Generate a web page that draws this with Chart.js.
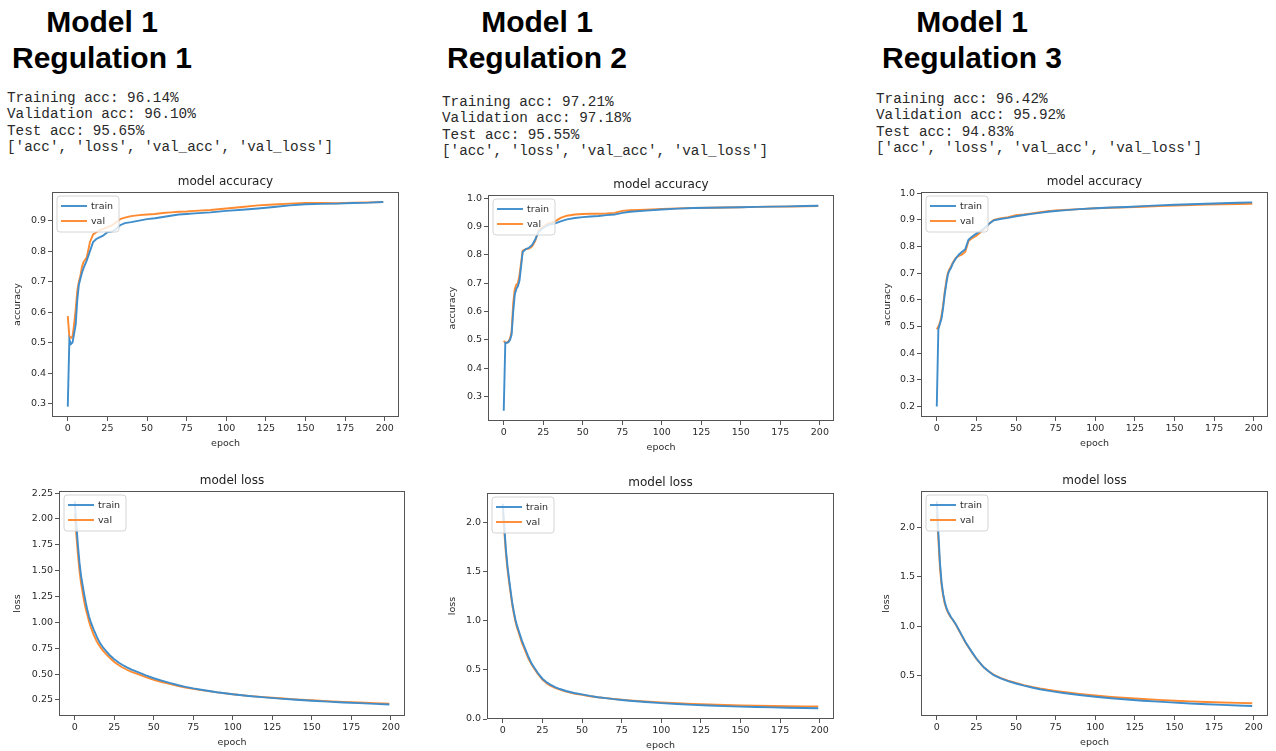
<!DOCTYPE html>
<html>
<head>
<meta charset="utf-8">
<title>Model 1 - regulation comparison</title>
<script src="https://cdn.jsdelivr.net/npm/chart.js@4.4.0/dist/chart.umd.min.js"></script>
<style>
  html, body { margin: 0; padding: 0; background: #fff; width: 1276px; height: 751px; overflow: hidden; }
  body { position: relative; }
  .head { position: absolute; width: 260px; text-align: center; font-family: 'Liberation Sans', Arial, sans-serif;
          font-weight: bold; font-size: 30px; line-height: 36px; color: #000; }
  .stats { position: absolute; margin: 0; font-family: 'Liberation Mono', monospace; font-size: 14.3px;
           line-height: 16.4px; color: #2a2a2a; white-space: pre; }
  canvas { position: absolute; }
</style>
</head>
<body>
<div class="head" style="left:-28px;top:4px">Model 1<br>Regulation 1</div>
<div class="head" style="left:407px;top:4px">Model 1<br>Regulation 2</div>
<div class="head" style="left:842px;top:4px">Model 1<br>Regulation 3</div>
<pre class="stats" id="stats1" style="left:7px;top:90px"></pre>
<pre class="stats" id="stats2" style="left:442px;top:94px"></pre>
<pre class="stats" id="stats3" style="left:876px;top:91px"></pre>

<script>
// summary numbers printed above each pair of plots
var trainAcc = [96.14, 97.21, 96.42];
var valAcc = [96.10, 97.18, 95.92];
var testAcc = [95.65, 95.55, 94.83];
var historyKeys = ['acc', 'loss', 'val_acc', 'val_loss'];

var epochs = [0, 1, 2, 3, 4, 5, 6, 7, 8, 9, 10, 12, 14, 16, 18, 20, 22, 25, 28, 30, 33, 36,
              40, 45, 50, 55, 60, 65, 70, 75, 80, 90, 100, 110, 120, 130, 140, 150, 160, 170, 180, 190, 199];

// regulation 1
var acc1Train = [0.29, 0.51, 0.495, 0.50, 0.53, 0.56, 0.64, 0.69, 0.71, 0.73, 0.745,
                 0.77, 0.80, 0.83, 0.84, 0.845, 0.85, 0.862, 0.865, 0.87, 0.885, 0.892,
                 0.895, 0.90, 0.905, 0.908, 0.912, 0.916, 0.92, 0.922, 0.924,
                 0.927, 0.932, 0.936, 0.94, 0.945, 0.95, 0.954, 0.955, 0.956, 0.958, 0.959, 0.961];
var acc1Val = [0.587, 0.52, 0.515, 0.52, 0.56, 0.61, 0.67, 0.70, 0.72, 0.75, 0.765,
               0.78, 0.83, 0.855, 0.862, 0.868, 0.872, 0.878, 0.885, 0.893, 0.905, 0.91,
               0.915, 0.918, 0.92, 0.922, 0.925, 0.927, 0.929, 0.93, 0.932,
               0.935, 0.94, 0.945, 0.95, 0.953, 0.956, 0.958, 0.958, 0.957, 0.959, 0.96, 0.961];
var loss1Train = [2.17, 1.95, 1.75, 1.58, 1.45, 1.36, 1.27, 1.19, 1.12, 1.06, 1.01,
                  0.93, 0.86, 0.80, 0.755, 0.72, 0.685, 0.643, 0.61, 0.59, 0.565, 0.543,
                  0.518, 0.488, 0.46, 0.437, 0.415, 0.395, 0.377, 0.362, 0.349,
                  0.325, 0.305, 0.289, 0.275, 0.263, 0.252, 0.243, 0.234, 0.226, 0.219, 0.212, 0.206];
var loss1Val = [2.05, 1.85, 1.66, 1.50, 1.38, 1.29, 1.20, 1.13, 1.07, 1.01, 0.96,
                0.88, 0.815, 0.765, 0.725, 0.69, 0.66, 0.617, 0.585, 0.566, 0.542, 0.522,
                0.50, 0.47, 0.445, 0.424, 0.405, 0.387, 0.371, 0.357, 0.345,
                0.323, 0.305, 0.29, 0.277, 0.266, 0.256, 0.247, 0.239, 0.232, 0.225, 0.219, 0.214];

// regulation 2
var acc2Train = [0.25, 0.49, 0.49, 0.492, 0.50, 0.52, 0.60, 0.66, 0.68, 0.69, 0.71,
                 0.81, 0.82, 0.825, 0.835, 0.855, 0.88, 0.895, 0.905, 0.908, 0.912, 0.918,
                 0.925, 0.93, 0.933, 0.935, 0.937, 0.94, 0.942, 0.948, 0.952,
                 0.956, 0.96, 0.963, 0.965, 0.966, 0.967, 0.968, 0.969, 0.97, 0.971, 0.972, 0.973];
var acc2Val = [0.497, 0.49, 0.49, 0.495, 0.505, 0.53, 0.63, 0.68, 0.695, 0.70, 0.73,
               0.815, 0.82, 0.822, 0.83, 0.85, 0.885, 0.90, 0.91, 0.913, 0.92, 0.93,
               0.938, 0.942, 0.944, 0.945, 0.945, 0.946, 0.948, 0.955, 0.957,
               0.959, 0.962, 0.964, 0.965, 0.966, 0.967, 0.968, 0.969, 0.97, 0.97, 0.971, 0.972];
var loss2Train = [2.19, 1.95, 1.72, 1.55, 1.42, 1.30, 1.18, 1.09, 1.01, 0.95, 0.90,
                  0.80, 0.72, 0.64, 0.57, 0.52, 0.47, 0.41, 0.37, 0.35, 0.325, 0.305,
                  0.285, 0.265, 0.25, 0.235, 0.222, 0.212, 0.202, 0.194, 0.186,
                  0.173, 0.162, 0.152, 0.144, 0.137, 0.131, 0.126, 0.122, 0.118, 0.115, 0.112, 0.11];
var loss2Val = [2.10, 1.90, 1.68, 1.52, 1.39, 1.27, 1.16, 1.07, 0.99, 0.93, 0.88,
                0.78, 0.70, 0.62, 0.56, 0.51, 0.46, 0.40, 0.36, 0.34, 0.317, 0.298,
                0.278, 0.26, 0.245, 0.232, 0.221, 0.212, 0.204, 0.197, 0.19,
                0.179, 0.169, 0.16, 0.153, 0.147, 0.142, 0.138, 0.135, 0.132, 0.13, 0.128, 0.127];

// regulation 3
var acc3Train = [0.20, 0.49, 0.51, 0.53, 0.57, 0.62, 0.66, 0.695, 0.71, 0.72, 0.735,
                 0.755, 0.77, 0.78, 0.79, 0.825, 0.835, 0.848, 0.86, 0.868, 0.885, 0.898,
                 0.903, 0.907, 0.913, 0.918, 0.922, 0.926, 0.93, 0.933, 0.935,
                 0.94, 0.943, 0.946, 0.948, 0.951, 0.954, 0.956, 0.958, 0.96, 0.962, 0.964, 0.965];
var acc3Val = [0.49, 0.50, 0.515, 0.54, 0.58, 0.63, 0.67, 0.70, 0.715, 0.725, 0.738,
               0.757, 0.765, 0.77, 0.78, 0.82, 0.83, 0.84, 0.855, 0.865, 0.885, 0.90,
               0.905, 0.91, 0.917, 0.92, 0.924, 0.928, 0.932, 0.935, 0.937,
               0.94, 0.943, 0.945, 0.947, 0.949, 0.951, 0.953, 0.955, 0.957, 0.958, 0.959, 0.96];
var loss3Train = [2.27, 1.95, 1.65, 1.45, 1.33, 1.25, 1.19, 1.15, 1.12, 1.09, 1.07,
                  1.02, 0.96, 0.90, 0.84, 0.79, 0.74, 0.67, 0.61, 0.575, 0.535, 0.50,
                  0.47, 0.44, 0.415, 0.393, 0.374, 0.357, 0.342, 0.33, 0.318,
                  0.298, 0.28, 0.265, 0.252, 0.24, 0.23, 0.22, 0.212, 0.204, 0.197, 0.191, 0.186];
var loss3Val = [2.15, 1.88, 1.60, 1.42, 1.31, 1.23, 1.18, 1.14, 1.11, 1.085, 1.065,
                1.015, 0.955, 0.895, 0.835, 0.785, 0.735, 0.665, 0.61, 0.575, 0.537, 0.503,
                0.472, 0.443, 0.42, 0.399, 0.381, 0.365, 0.351, 0.339, 0.328,
                0.309, 0.293, 0.279, 0.267, 0.257, 0.248, 0.24, 0.233, 0.227, 0.222, 0.218, 0.214];

// tick values
var xTicks = [0, 25, 50, 75, 100, 125, 150, 175, 200];
var accTicks1 = [0.3, 0.4, 0.5, 0.6, 0.7, 0.8, 0.9];
var lossTicks1 = [0.25, 0.5, 0.75, 1, 1.25, 1.5, 1.75, 2, 2.25];
var accTicks2 = [0.3, 0.4, 0.5, 0.6, 0.7, 0.8, 0.9, 1.0];
var lossTicks2 = [0, 0.5, 1, 1.5, 2];
var accTicks3 = [0.2, 0.3, 0.4, 0.5, 0.6, 0.7, 0.8, 0.9, 1.0];
var lossTicks3 = [0.5, 1, 1.5, 2];

var BLUE = '#3f8dcb';
var ORANGE = '#ff8a30';
var TEXT = '#2b2b2b';
var FONT = "'DejaVu Sans', sans-serif";
var AXIS_W = 50;   // room left of the plot for tick labels + y title
var TITLE_H = 19;  // room above the plot for the title
var XAXIS_H = 34;  // room below the plot for tick labels + x title
var RIGHT_PAD = 8;

// fill the printed summaries
for (var i = 0; i < 3; i++) {
    document.getElementById('stats' + (i + 1)).textContent =
        'Training acc: ' + trainAcc[i].toFixed(2) + '%\n' +
        'Validation acc: ' + valAcc[i].toFixed(2) + '%\n' +
        'Test acc: ' + testAcc[i].toFixed(2) + '%\n' +
        '[' + historyKeys.map(function (k) { return "'" + k + "'"; }).join(', ') + ']';
}

function toPoints(values) {
    return epochs.map(function (e, i) { return { x: e, y: values[i] }; });
}

// matplotlib style frame + legend box in the upper left corner
var frameAndLegend = {
    id: 'frameAndLegend',
    afterDatasetsDraw: function (chart) {
        var ctx = chart.ctx;
        var a = chart.chartArea;
        ctx.save();

        var bx = a.left + 5, by = a.top + 4, bw = 62, bh = 36, r = 3;
        ctx.beginPath();
        ctx.moveTo(bx + r, by);
        ctx.arcTo(bx + bw, by, bx + bw, by + bh, r);
        ctx.arcTo(bx + bw, by + bh, bx, by + bh, r);
        ctx.arcTo(bx, by + bh, bx, by, r);
        ctx.arcTo(bx, by, bx + bw, by, r);
        ctx.closePath();
        ctx.fillStyle = 'rgba(255,255,255,0.8)';
        ctx.fill();
        ctx.strokeStyle = '#d4d4d4';
        ctx.lineWidth = 1;
        ctx.stroke();

        ctx.font = '9.5px ' + FONT;
        ctx.textBaseline = 'middle';
        chart.data.datasets.forEach(function (ds, k) {
            var y = a.top + 14 + k * 15;
            ctx.strokeStyle = ds.borderColor;
            ctx.lineWidth = 1.9;
            ctx.beginPath();
            ctx.moveTo(a.left + 9, y);
            ctx.lineTo(a.left + 35, y);
            ctx.stroke();
            ctx.fillStyle = TEXT;
            ctx.fillText(ds.label, a.left + 39, y + 0.5);
        });

        ctx.strokeStyle = '#555';
        ctx.lineWidth = 1;
        ctx.strokeRect(a.left + 0.5, a.top + 0.5, a.right - a.left - 1, a.bottom - a.top - 1);
        ctx.restore();
    }
};

function makeChart(box, spec) {
    var canvas = document.createElement('canvas');
    var w = box.R - box.L + AXIS_W + RIGHT_PAD;
    var h = box.B - box.T + TITLE_H + XAXIS_H;
    canvas.width = w;
    canvas.height = h;
    canvas.style.width = w + 'px';
    canvas.style.height = h + 'px';
    canvas.style.left = (box.L - AXIS_W) + 'px';
    canvas.style.top = (box.T - TITLE_H) + 'px';
    document.body.appendChild(canvas);

    var tickFont = { family: FONT, size: 9.5 };
    return new Chart(canvas, {
        type: 'line',
        data: {
            datasets: [
                { label: 'train', data: toPoints(spec.train), borderColor: BLUE },
                { label: 'val', data: toPoints(spec.val), borderColor: ORANGE }
            ]
        },
        options: {
            responsive: false,
            animation: false,
            devicePixelRatio: 1,
            layout: { padding: { left: 0, top: 0, right: RIGHT_PAD, bottom: 0 } },
            elements: { point: { radius: 0 }, line: { borderWidth: 1.9, tension: 0, fill: false } },
            plugins: {
                legend: { display: false },
                tooltip: { enabled: false },
                title: {
                    display: true, text: spec.title, fullSize: false, color: '#222',
                    font: { family: FONT, size: 12, weight: 'normal', lineHeight: '14px' },
                    padding: { top: 2, bottom: 3 }
                }
            },
            scales: {
                x: {
                    type: 'linear', min: -9.95, max: 208.95,
                    afterFit: function (s) { s.height = XAXIS_H; },
                    afterBuildTicks: function (s) { s.ticks = xTicks.map(function (v) { return { value: v }; }); },
                    ticks: { autoSkip: false, maxRotation: 0, padding: 2, color: TEXT, font: tickFont,
                             callback: function (v) { return String(v); } },
                    grid: { drawOnChartArea: false, drawTicks: true, tickLength: 4, color: '#555' },
                    border: { display: false },
                    title: { display: true, text: 'epoch', color: TEXT, font: tickFont, padding: { top: 0, bottom: 2 } }
                },
                y: {
                    type: 'linear', min: spec.yMin, max: spec.yMax,
                    afterFit: function (s) { s.width = AXIS_W; },
                    afterBuildTicks: function (s) { s.ticks = spec.yTicks.map(function (v) { return { value: v }; }); },
                    ticks: { padding: 2, color: TEXT, font: tickFont,
                             callback: function (v) { return Number(v).toFixed(spec.dec); } },
                    grid: { drawOnChartArea: false, drawTicks: true, tickLength: 4, color: '#555' },
                    border: { display: false },
                    title: { display: true, text: spec.yLabel, color: TEXT, font: tickFont,
                             padding: { top: spec.yTitlePad, bottom: 0 } }
                }
            }
        },
        plugins: [frameAndLegend]
    });
}

// plot boxes (left, top, right, bottom of the axes frame) and per plot settings
makeChart({ L: 52, T: 192, R: 399, B: 417 },
    { title: 'model accuracy', yLabel: 'accuracy', yMin: 0.256, yMax: 0.994, yTicks: accTicks1, dec: 1,
      train: acc1Train, val: acc1Val, yTitlePad: 10 });
makeChart({ L: 59, T: 491, R: 405, B: 716 },
    { title: 'model loss', yLabel: 'loss', yMin: 0.095, yMax: 2.27, yTicks: lossTicks1, dec: 2,
      train: loss1Train, val: loss1Val, yTitlePad: 3 });
makeChart({ L: 488, T: 195, R: 834, B: 421 },
    { title: 'model accuracy', yLabel: 'accuracy', yMin: 0.214, yMax: 1.011, yTicks: accTicks2, dec: 1,
      train: acc2Train, val: acc2Val, yTitlePad: 9 });
makeChart({ L: 487, T: 493, R: 834, B: 719 },
    { title: 'model loss', yLabel: 'loss', yMin: 0.0, yMax: 2.3, yTicks: lossTicks2, dec: 1,
      train: loss2Train, val: loss2Val, yTitlePad: 10 });
makeChart({ L: 921, T: 192, R: 1268, B: 417 },
    { title: 'model accuracy', yLabel: 'accuracy', yMin: 0.161, yMax: 1.004, yTicks: accTicks3, dec: 1,
      train: acc3Train, val: acc3Val, yTitlePad: 11 });
makeChart({ L: 921, T: 491, R: 1268, B: 716 },
    { title: 'model loss', yLabel: 'loss', yMin: 0.084, yMax: 2.376, yTicks: lossTicks3, dec: 1,
      train: loss3Train, val: loss3Val, yTitlePad: 10 });
</script>
</body>
</html>
